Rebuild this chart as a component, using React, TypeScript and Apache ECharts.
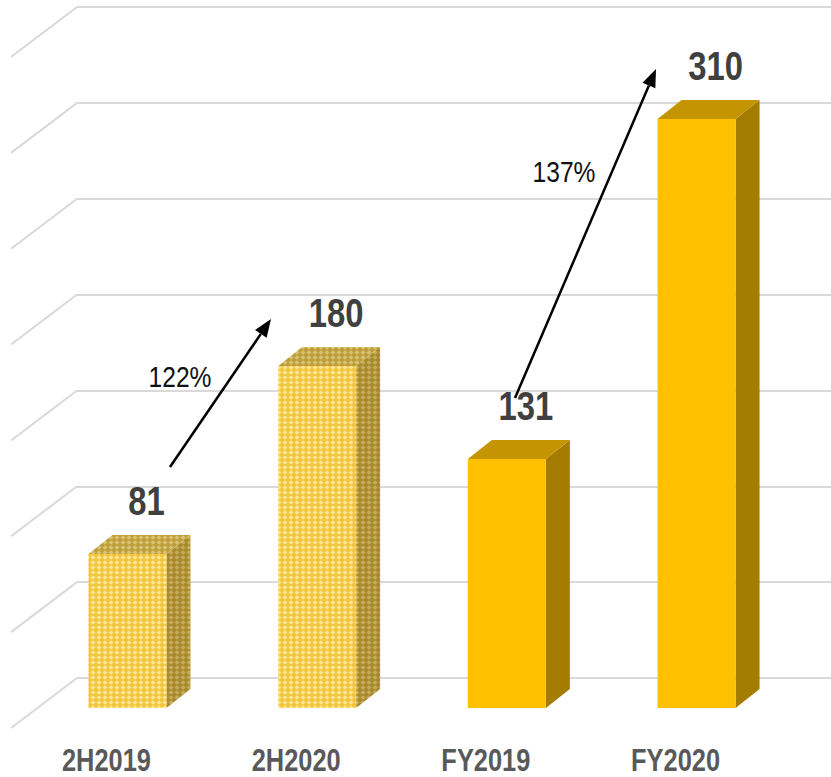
import React, { useEffect, useRef } from "react";
import * as echarts from "echarts";

const categories = ["2H2019", "2H2020", "FY2019", "FY2020"];
const values = [81, 180, 131, 310];
const patterned = [true, true, false, false];
const gridTicks = [0, 50, 100, 150, 200, 250, 300, 350];
const growthLabels = ["122%", "137%"];

const FONT = "'Liberation Sans Narrow', 'Arial Narrow', 'Liberation Sans', Arial, sans-serif";
const SX = 0.82;

function makePattern(base: string, light: string) {
  const c = document.createElement("canvas");
  c.width = 6;
  c.height = 5;
  const g = c.getContext("2d")!;
  g.fillStyle = base;
  g.fillRect(0, 0, 6, 5);
  g.fillStyle = light;
  g.beginPath();
  g.moveTo(3, 0.3);
  g.lineTo(5.6, 2.5);
  g.lineTo(3, 4.7);
  g.lineTo(0.4, 2.5);
  g.closePath();
  g.fill();
  return c;
}

function arrow(x1: number, y1: number, x2: number, y2: number) {
  const ang = Math.atan2(y2 - y1, x2 - x1);
  const L = 18, W = 7;
  const bx = x2 - L * Math.cos(ang), by = y2 - L * Math.sin(ang);
  const px = -Math.sin(ang) * W, py = Math.cos(ang) * W;
  return [
    {
      type: "line",
      shape: { x1, y1, x2: bx, y2: by },
      style: { stroke: "#000", lineWidth: 2.5 },
      z: 20,
    },
    {
      type: "polygon",
      shape: { points: [[x2, y2], [bx + px, by + py], [bx - px, by - py]] },
      style: { fill: "#000" },
      z: 20,
    },
  ];
}

function pctText(text: string, x: number, y: number) {
  return {
    type: "text",
    x,
    y,
    scaleX: SX,
    style: {
      text,
      fontFamily: FONT,
      fontSize: 30,
      fill: "#111",
      align: "center",
      verticalAlign: "middle",
    },
    z: 20,
  };
}

export default function App() {
  const ref = useRef<HTMLDivElement>(null);
  useEffect(() => {
    if (!ref.current) return;
    const chart = echarts.init(ref.current, undefined, { renderer: "svg" });
    const pFront = makePattern("#F2C53A", "#FCE597");
    const pTop = makePattern("#BD9E3A", "#D9C271");
    const pSide = makePattern("#A88A2C", "#C6AC5A");

    const dx = 24, dy = -19, bw = 78;

    const option: any = {
      animation: false,
      backgroundColor: "#fff",
      grid: [
        { left: 77, right: 0, top: 7, bottom: 99 },
        { left: 32.6, right: 39.6, top: 43, bottom: 69 },
      ],
      xAxis: [
        { gridIndex: 0, type: "value", min: 0, max: 1, show: false },
        {
          gridIndex: 1,
          type: "category",
          data: categories,
          axisLine: { show: false },
          axisTick: { show: false },
          axisLabel: { show: false },
        },
      ],
      yAxis: [
        {
          gridIndex: 0,
          type: "value",
          min: 0,
          max: 350,
          interval: 50,
          axisLabel: { show: false },
          axisLine: { show: false },
          axisTick: { show: false },
          splitLine: { show: true, lineStyle: { color: "#D9D9D9", width: 2 } },
        },
        { gridIndex: 1, type: "value", min: 0, max: 350, show: false, splitLine: { show: false } },
      ],
      series: [
        {
          type: "custom",
          xAxisIndex: 0,
          yAxisIndex: 0,
          data: gridTicks.map((v) => [0, v]),
          renderItem: (params: any, api: any) => {
            const p = api.coord([0, api.value(1)]);
            return {
              type: "line",
              shape: { x1: p[0], y1: p[1], x2: p[0] - 66, y2: p[1] + 50 },
              style: { stroke: "#D9D9D9", lineWidth: 2 },
            };
          },
          silent: true,
          z: 1,
        },
        {
          type: "custom",
          xAxisIndex: 1,
          yAxisIndex: 1,
          data: values.map((v, i) => [i, v]),
          z: 5,
          renderItem: (params: any, api: any) => {
            const i = api.value(0);
            const v = api.value(1);
            const top = api.coord([i, v]);
            const base = api.coord([i, 0]);
            const x0 = top[0] - bw / 2, x1 = top[0] + bw / 2;
            const y0 = top[1], y1 = base[1];
            const pat = patterned[i];
            const front = pat ? { image: pFront, repeat: "repeat" } : "#FFC000";
            const topF = pat ? { image: pTop, repeat: "repeat" } : "#C49500";
            const sideF = pat ? { image: pSide, repeat: "repeat" } : "#A37C00";
            return {
              type: "group",
              children: [
                {
                  type: "polygon",
                  shape: { points: [[x1, y0], [x1 + dx, y0 + dy], [x1 + dx, y1 + dy], [x1, y1]] },
                  style: { fill: sideF },
                },
                {
                  type: "polygon",
                  shape: { points: [[x0, y0], [x0 + dx, y0 + dy], [x1 + dx, y0 + dy], [x1, y0]] },
                  style: { fill: topF },
                },
                {
                  type: "rect",
                  shape: { x: x0, y: y0, width: bw, height: y1 - y0 },
                  style: { fill: front },
                },
                {
                  type: "text",
                  x: top[0] + 19,
                  y: y0 + dy - 34,
                  scaleX: SX,
                  style: {
                    text: String(v),
                    fontFamily: FONT,
                    fontWeight: "bold",
                    fontSize: 40,
                    fill: "#404040",
                    align: "center",
                    verticalAlign: "middle",
                  },
                },
                {
                  type: "text",
                  x: top[0] - 21,
                  y: y1 + 52,
                  scaleX: SX,
                  style: {
                    text: categories[i],
                    fontFamily: FONT,
                    fontWeight: "bold",
                    fontSize: 31,
                    fill: "#595959",
                    align: "center",
                    verticalAlign: "middle",
                  },
                },
              ],
            };
          },
        },
      ],
      graphic: [
        ...arrow(170, 467, 271, 319),
        ...arrow(515, 398, 656, 69),
        pctText(growthLabels[0], 180, 377),
        pctText(growthLabels[1], 564, 172),
      ],
    };
    chart.setOption(option);
    return () => chart.dispose();
  }, []);
  return (
    <div
      ref={ref}
      style={{ position: "fixed", left: 0, top: 0, width: 831, height: 777 }}
    />
  );
}
